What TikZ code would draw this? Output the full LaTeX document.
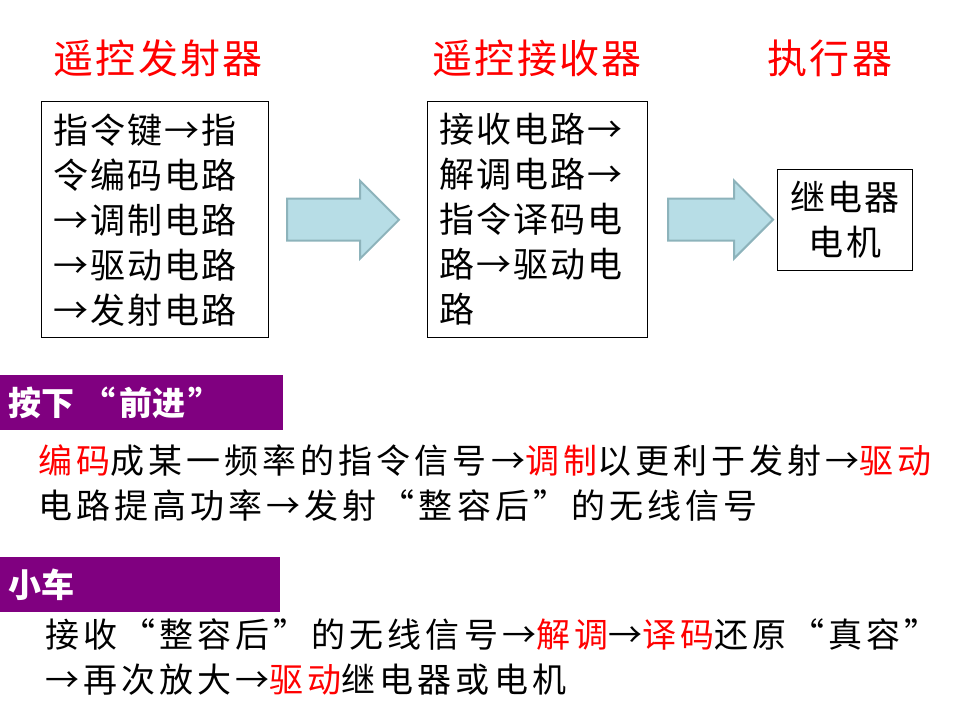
\documentclass[tikz,border=0pt]{standalone}
\usepackage{fontspec}
\setmainfont{Noto Sans CJK SC}
\usetikzlibrary{shapes.arrows, positioning, calc}
\definecolor{titlered}{HTML}{FF0000}
\definecolor{barpurple}{HTML}{800080}
\definecolor{arrowfill}{HTML}{B7DDE6}
\definecolor{arrowline}{HTML}{8DB3BB}

\begin{document}
\begin{tikzpicture}[x=1pt, y=-1pt,
    title/.style={text=titlered, font=\fontsize{40}{42}\selectfont\addfontfeature{LetterSpace=6}},
    block/.style={draw, line width=1pt, align=left, inner xsep=12pt, inner ysep=12pt,
        font=\fontsize{35}{45}\selectfont\addfontfeature{LetterSpace=6}},
    bigarrow/.style={single arrow, draw=arrowline, fill=arrowfill, line width=2pt, anchor=tail,
        inner xsep=0pt, inner ysep=20pt, single arrow head extend=18pt},
    bar/.style={fill=barpurple, text=white, anchor=north west, minimum height=55pt,
        inner xsep=8pt, align=left, font=\fontsize{33}{36}\selectfont\bfseries},
    body/.style={anchor=north west, align=left, inner sep=0pt,
        font=\fontsize{34}{45}\selectfont\addfontfeature{LetterSpace=12}}]
    \useasboundingbox (0,0) rectangle (960,720);

    % titles
    \node[title] (sendtitle)    at (158,58) {遥控发射器};
    \node[title] (recvtitle)    at (537,58) {遥控接收器};
    \node[title] (acttitle)     at (830,58) {执行器};

    % boxes
    \node[block, text width=203pt, anchor=north west] (sender) at (41,101)
        {指令键→指\\令编码电路\\→调制电路\\→驱动电路\\→发射电路};
    \node[block, text width=196pt, right=158pt of sender.north east, anchor=north west] (receiver)
        {接收电路→\\解调电路→\\指令译码电\\路→驱动电\\路};
    \node[block, align=center, text width=111pt] (actuator) at (845,220) {继电器\\电机};

    % arrows between boxes
    \node[bigarrow, minimum height=112pt] (sendarrow) at ([xshift=17pt]sender.east) {};
    \node[bigarrow, minimum height=105pt] (recvarrow) at ([xshift=19pt]receiver.east) {};

    % forward key
    \node[bar, text width=267pt] (forwardbar) at (0,375) {按下\kern8pt“\kern4pt前进\kern3pt”};
    \node[body] (forwardtext) at (38,444)
        {{\color{titlered}编码}成某一频率的指令信号→{\color{titlered}调制}以更利于发射→{\color{titlered}驱动}\\
         电路提高功率→发射“整容后”的无线信号};

    % car
    \node[bar, text width=264pt] (carbar) at (0,557) {小车};
    \node[body] (cartext) at (45,618)
        {接收“整容后”的无线信号→{\color{titlered}解调}→{\color{titlered}译码}还原“真容”\\
         →再次放大→{\color{titlered}驱动}继电器或电机};
\end{tikzpicture}
\end{document}
